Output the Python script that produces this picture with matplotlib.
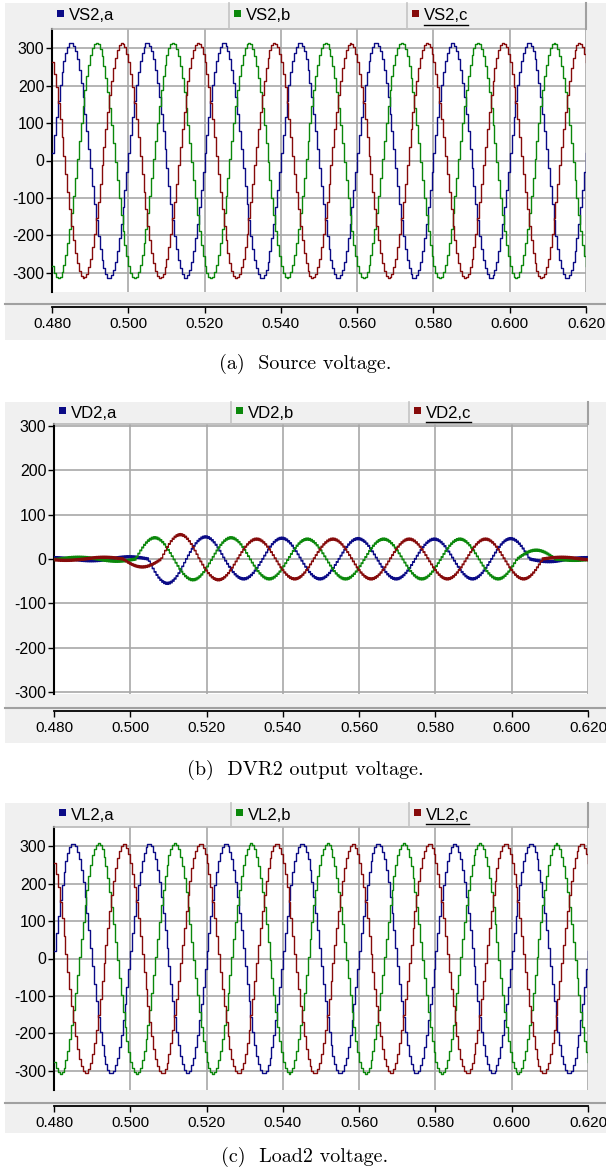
import matplotlib
matplotlib.use("Agg")
import matplotlib.pyplot as plt
import numpy as np
from matplotlib.patches import Rectangle
from matplotlib.lines import Line2D

# ---- data ----
T_START, T_END = 0.480, 0.620
FREQ = 50.0                 # Hz, 7 cycles in the window
T_ZERO = 0.4798             # rising zero of phase a
SAMPLE = 0.0005             # staircase step of the recorded traces
PHASE_DEG = [0, -120, 120]  # a, b, c

SOURCE_AMP = 315.0
LOAD_AMP = 308.0

SOURCE_NAMES = ["VS2,a", "VS2,b", "VS2,c"]
DVR_NAMES = ["VD2,a", "VD2,b", "VD2,c"]
LOAD_NAMES = ["VL2,a", "VL2,b", "VL2,c"]

# DVR output: signed half-cycle peaks, one every 10 ms, per phase
DVR_FIRST_PEAK = [0.4796, 0.4763, 0.4830]
DVR_A_PEAKS = [3, -4, 5, -55, 50, -45, 47, -45, 46, -45, 45, -45, 46, -6, 3, -2]
DVR_B_PEAKS = [-3, 4, -5, 48, -47, 48, -45, 45, -45, 45, -45, 45, -45, 20, -3, 2]
DVR_C_PEAKS = [-3, 4, -18, 55, -47, 45, -45, 45, -45, 45, -45, 45, -45, 4, -3, 2]
DVR_RIPPLE = 2.5
DVR_SAMPLE = 0.00025

X_TICKS = [0.48, 0.50, 0.52, 0.54, 0.56, 0.58, 0.60, 0.62]
Y_TICKS = [-300, -200, -100, 0, 100, 200, 300]

COLORS = ["#0b0b86", "#0b880b", "#860b0b"]

W, H = 606, 1173
plt.rcParams["font.family"] = ["Liberation Sans", "DejaVu Sans"]


def three_phase(amp):
    t = np.arange(T_START, T_END + SAMPLE, SAMPLE)
    out = []
    for ph in PHASE_DEG:
        out.append(amp * np.sin(2 * np.pi * FREQ * (t - T_ZERO) + np.radians(ph)))
    return t, out


def dvr_phase(first, peaks):
    t = np.arange(T_START, T_END + DVR_SAMPLE, DVR_SAMPLE)
    y = np.zeros_like(t)
    for k, v in enumerate(peaks):
        p = first + 0.01 * k
        m = (t >= p - 0.005) & (t < p + 0.005)
        y[m] = v * np.cos(2 * np.pi * FREQ * (t[m] - p))
    y = y + DVR_RIPPLE * np.where(np.arange(len(t)) % 2 == 0, 1, -1)
    return t, y


def fx(x):
    return x / W


def fy(y):
    return 1 - y / H


fig = plt.figure(figsize=(W / 100, H / 100), dpi=100)


def panel(g_top, g_bot, p_top, p_bot, strip_y, axis_y, cap_y, ylim, names, t, ys, caption,
          left=52, right=586, seps=(229, 407), lw=1.0):
    fig.patches.append(Rectangle((fx(5), fy(g_bot)), fx(W - 5), (g_bot - g_top) / H,
                                 transform=fig.transFigure, facecolor="#f0f0f0",
                                 edgecolor="none", zorder=-5))
    # legend bar lines
    fig.add_artist(Line2D([fx(left), fx(right)], [fy(p_top), fy(p_top)],
                          color="#b8b8b8", lw=1.2))
    fig.add_artist(Line2D([fx(right), fx(right)], [fy(g_top), fy(p_top)],
                          color="#a0a0a0", lw=1.5))
    for s in seps:
        fig.add_artist(Line2D([fx(s), fx(s)], [fy(g_top), fy(p_top)],
                              color="#c4c4c4", lw=1.2))
    starts = [left, seps[0], seps[1]]
    ymid = (g_top + p_top) / 2
    for i, (nm, s) in enumerate(zip(names, starts)):
        fig.patches.append(Rectangle((fx(s + 5), fy(ymid + 1)), 7 / W, 7 / H,
                                     transform=fig.transFigure, facecolor=COLORS[i],
                                     edgecolor="none"))
        txt = fig.text(fx(s + 17), fy(ymid), nm, fontsize=12, va="center", ha="left")
        if i == 2:
            fig.canvas.draw()
            bb = txt.get_window_extent()
            fig.add_artist(Line2D([bb.x0 / W, bb.x1 / W], [fy(ymid + 9), fy(ymid + 9)],
                                  color="black", lw=1.0))

    ax = fig.add_axes([fx(left), fy(p_bot), (right - left) / W, (p_bot - p_top) / H])
    ax.set_facecolor("white")
    for i, y in enumerate(ys):
        ax.plot(t, y, color=COLORS[i], lw=lw, drawstyle="steps-post", zorder=3)
    ax.set_xlim(T_START, T_END)
    ax.set_ylim(*ylim)
    ax.set_xticks(X_TICKS)
    ax.set_xticklabels(["%.3f" % v for v in X_TICKS])
    ax.set_yticks(Y_TICKS)
    ax.set_yticklabels([str(v) for v in Y_TICKS])
    ax.grid(True, color="#a8a8a8", lw=1.2, zorder=1)
    ax.set_axisbelow(True)
    ax.spines["top"].set_visible(False)
    ax.spines["right"].set_visible(False)
    ax.spines["left"].set_linewidth(1.5)
    ax.spines["bottom"].set_linewidth(1.3)
    ax.spines["bottom"].set_position(("outward", (axis_y - p_bot) * 0.72))
    ax.tick_params(axis="x", length=4, width=1, labelsize=11, pad=3)
    ax.tick_params(axis="y", length=4.5, width=1, labelsize=11.5, pad=1)
    fig.add_artist(Line2D([fx(5), 1], [fy(strip_y), fy(strip_y)], color="#a0a0a0", lw=1.5))
    fig.text(fx(305), fy(cap_y), caption, family="cmr10", fontsize=14.5,
             ha="center", va="center")
    return ax


t, src = three_phase(SOURCE_AMP)
panel(3, 340, 29, 292, 304, 307, 364, (-352, 352), SOURCE_NAMES, t, src,
      "(a)  Source voltage.")

dvr = [dvr_phase(f, p) for f, p in zip(DVR_FIRST_PEAK, [DVR_A_PEAKS, DVR_B_PEAKS, DVR_C_PEAKS])]
panel(402, 743, 424, 694, 708, 711, 770, (-305, 305), DVR_NAMES, dvr[0][0],
      [d[1] for d in dvr], "(b)  DVR2 output voltage.", left=54, right=588, seps=(231, 409),
      lw=0.9)

t, load = three_phase(LOAD_AMP)
panel(803, 1133, 827, 1090, 1103, 1106, 1157, (-352, 352), LOAD_NAMES, t, load,
      "(c)  Load2 voltage.", left=54, right=588, seps=(231, 409))

fig.savefig("out.png", dpi=100)
